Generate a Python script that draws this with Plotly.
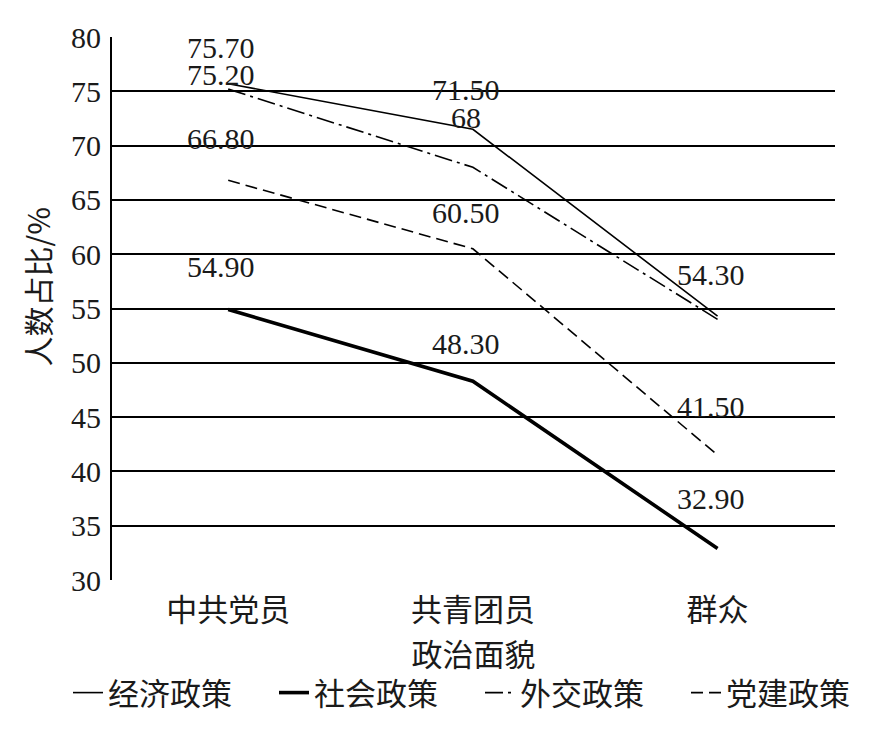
import plotly.graph_objects as go

categories = ["中共党员", "共青团员", "群众"]
econ = [75.7, 71.5, 54.3]
social = [54.9, 48.3, 32.9]
foreign = [75.2, 68.0, 54.0]
party = [66.8, 60.5, 41.5]

series_names = ["经济政策", "社会政策", "外交政策", "党建政策"]

label_texts = {
    "经济政策": ["75.70", "71.50", "54.30"],
    "社会政策": ["54.90", "48.30", "32.90"],
    "外交政策": ["75.20", "68", None],
    "党建政策": ["66.80", "60.50", "41.50"],
}
label_shift = {
    "经济政策": [36, 40, 42],
    "社会政策": [43, 38, 50],
    "外交政策": [15, 50, 0],
    "党建政策": [42, 36, 49],
}

styles = {
    "经济政策": dict(width=1.6, dash="solid"),
    "社会政策": dict(width=3.6, dash="solid"),
    "外交政策": dict(width=1.6, dash="18px,5px,3px,5px"),
    "党建政策": dict(width=1.6, dash="12px,6px"),
}

values = {"经济政策": econ, "社会政策": social, "外交政策": foreign, "党建政策": party}

SERIF = "Times New Roman"
CJK = "Noto Sans CJK SC"
TXT = "#1a1a1a"

fig = go.Figure()
for name in series_names:
    fig.add_trace(go.Scatter(
        x=categories, y=values[name], mode="lines", name=name,
        line=dict(color="black", **styles[name]),
    ))

for name in series_names:
    for c, v, t, s in zip(categories, values[name], label_texts[name], label_shift[name]):
        if t is None:
            continue
        fig.add_annotation(x=c, y=v, text=t, showarrow=False, yshift=s, xshift=-7,
                           font=dict(family=SERIF, size=30, color=TXT))

fig.add_annotation(xref="paper", yref="paper", x=-0.104, y=0.54, text="人数占比/%",
                   textangle=-90, showarrow=False, xanchor="center", yanchor="middle",
                   font=dict(family=CJK, size=30, color=TXT))

fig.update_layout(
    width=884, height=731,
    margin=dict(l=104, r=57, t=29, b=159),
    paper_bgcolor="white", plot_bgcolor="white",
    showlegend=True,
    legend=dict(orientation="h", x=-0.0553, xanchor="left", y=-0.208, yanchor="middle",
                font=dict(family=CJK, size=31, color=TXT), entrywidth=161,
                entrywidthmode="pixels", tracegroupgap=0),
    font=dict(family=SERIF, size=30, color=TXT),
)
fig.update_xaxes(
    range=[-0.475, 2.48], showgrid=False, zeroline=False, automargin=False,
    showline=False, ticks="outside", ticklen=3, tickcolor="rgba(0,0,0,0)",
    tickfont=dict(family=CJK, size=31, color=TXT),
    title=dict(text="政治面貌", font=dict(family=CJK, size=31, color=TXT), standoff=8),
)
fig.update_yaxes(
    range=[30, 80], dtick=5, tick0=30, showgrid=True, gridcolor="black", gridwidth=1.6,
    zeroline=False, showline=True, linecolor="black", linewidth=2, automargin=False,
    ticks="outside", ticklen=3, tickcolor="rgba(0,0,0,0)",
    tickfont=dict(family=SERIF, size=30, color=TXT),
)

fig.write_html("out.html")
